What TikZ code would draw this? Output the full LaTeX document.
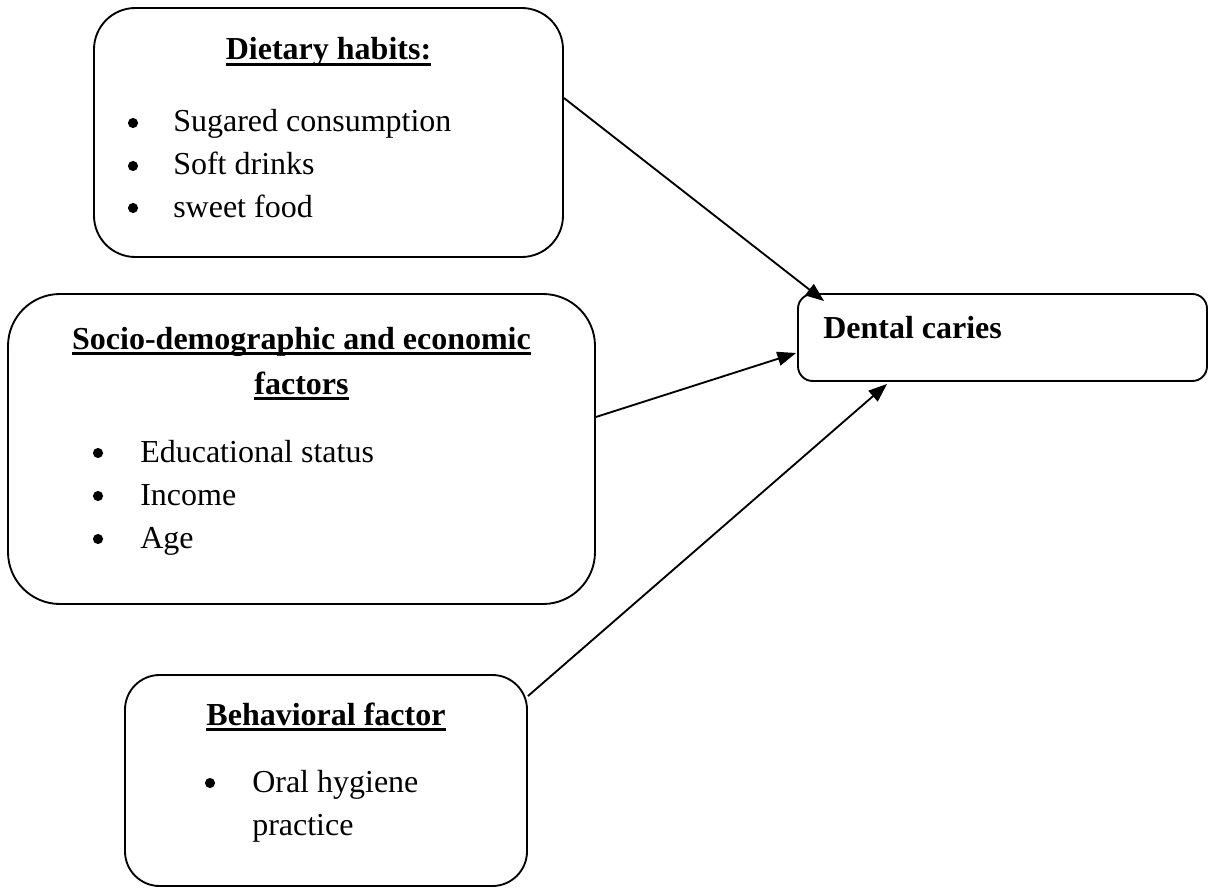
\documentclass[tikz,border=0pt]{standalone}
\usepackage{fontspec}
\setmainfont{Liberation Serif}
\usetikzlibrary{fit,arrows.meta,calc}
\newcommand\hul[1]{\setbox0\hbox{#1}\rlap{\rule[-4.6pt]{\wd0}{2.2pt}}\box0}
\begin{document}
\begin{tikzpicture}[x=0.75pt,y=-0.75pt,
  font=\fontsize{24}{32}\selectfont,
  box/.style={draw, line width=1.4pt, inner sep=0pt},
  head/.style={anchor=base, inner sep=0pt, font=\fontsize{24}{32}\selectfont\bfseries},
  itm/.style={anchor=base west, inner sep=0pt},
  dot/.style={circle, fill, draw=none, inner sep=0pt, minimum size=7.6pt},
  arr/.style={line width=1.4pt, -{Triangle[length=14pt,width=10.5pt]}}]
\useasboundingbox (0,0) rectangle (1209,888);

% boxes
\node[box, rounded corners=31pt, fit={(94,8) (563,257)}] (diet) {};
\node[box, rounded corners=39pt, fit={(8,294) (595,604)}] (soc) {};
\node[box, rounded corners=26pt, fit={(125,675) (527,886)}] (beh) {};
\node[box, rounded corners=11pt, fit={(798,294) (1207,381)}] (dent) {};

% Dietary habits
\node[head] (dieth) at (328.5,60) {\hul{Dietary habits:}};
\node[dot] (d1b) at (133,123) {};
\node[itm] (d1) at (173,132) {Sugared consumption};
\node[dot] (d2b) at (133,166) {};
\node[itm] (d2) at (173,175) {Soft drinks};
\node[dot] (d3b) at (133,208) {};
\node[itm] (d3) at (173,217) {sweet food};

% Socio-demographic
\node[head] (soch1) at (301.5,349) {\hul{Socio-demographic and economic}};
\node[head] (soch2) at (301.5,394) {\hul{factors}};
\node[dot] (s1b) at (98,453) {};
\node[itm] (s1) at (140,462) {Educational status};
\node[dot] (s2b) at (98,496) {};
\node[itm] (s2) at (140,505) {Income};
\node[dot] (s3b) at (98,539) {};
\node[itm] (s3) at (140,548) {Age};

% Behavioral
\node[head] (behh) at (326,725) {\hul{Behavioral factor}};
\node[dot] (b1b) at (210,783) {};
\node[itm] (b1) at (252,792) {Oral hygiene};
\node[itm] (b2) at (252,835) {practice};

% Dental caries
\node[itm, font=\fontsize{24}{32}\selectfont\bfseries] (dentt) at (823,338) {Dental caries};

% arrows
\draw[arr] ($(diet.east)+(0,-34.5)$) -- ($(dent.north west)+(27,8)$);
\draw[arr] ($(soc.east)+(0,-32)$) -- ($(dent.west)+(-1,15.5)$);
\draw[arr] ($(beh.north east)+(0,22)$) -- ($(dent.south west)+(90,2)$);
\end{tikzpicture}
\end{document}
